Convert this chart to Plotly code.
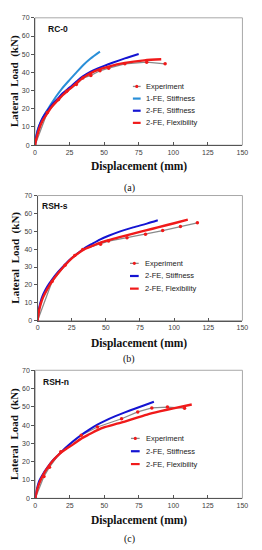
import plotly.graph_objects as go

# ---------------- data ----------------
x_ticks = [0, 25, 50, 75, 100, 125, 150]
y_ticks = [0, 10, 20, 30, 40, 50, 60, 70]
panel_names = ["RC-0", "RSH-s", "RSH-n"]
captions = ["(a)", "(b)", "(c)"]

# Panel (a) RC-0
exp_a_x = [0, 8.9, 17, 22.9, 29.9, 34.6, 40.4, 47, 53.3, 65, 80.8, 94.1]
exp_a_y = [0, 17.9, 25.1, 29.7, 33.3, 36.9, 38.3, 40.9, 42.3, 44.7, 45.6, 44.7]
fe1s_a_x = [0, 1, 2.5, 4.2, 7, 11.2, 15, 19.4, 25.2, 30, 34.6, 40, 47]
fe1s_a_y = [0, 5.5, 9.5, 12.5, 17, 22, 26.5, 31, 36, 40, 43.8, 47.5, 51.4]
fe2s_a_x = [0, 1, 3, 5.5, 8.9, 12, 15.9, 20, 25.2, 30, 34.6, 40, 45, 50, 56, 65, 75]
fe2s_a_y = [0, 5, 10.7, 15, 18.8, 22, 25.1, 28.5, 31.8, 35, 37.8, 40.3, 42.1, 43.6, 45.3, 47.7, 50.1]
fe2f_a_x = [0, 1, 3, 5.5, 8.9, 12, 15.9, 20, 25.2, 30, 34.6, 40, 46, 53.3, 65, 79, 91.3]
fe2f_a_y = [0, 3.5, 8.9, 13.5, 17.5, 21, 24.2, 27.5, 30.9, 34.1, 37.0, 39.5, 41.5, 43.2, 45.2, 46.6, 47.2]

# Panel (b) RSH-s
exp_b_x = [0, 10.6, 20.1, 27.2, 33.1, 46.1, 52, 65.5, 79, 91.6, 104.6, 117]
exp_b_y = [0, 21.9, 31, 36.4, 39.8, 42.8, 44.5, 46.4, 48.3, 50.4, 52.6, 54.7]
fe2s_b_x = [0, 0.7, 2, 4, 7, 10.6, 15, 20.1, 25, 30, 35, 40, 46, 52, 60, 70, 80, 88]
fe2s_b_y = [0, 5, 10, 14.5, 19, 23, 27.2, 31.5, 35, 38, 40.8, 43, 45.5, 47.5, 49.8, 52.2, 54.3, 56.2]
fe2f_b_x = [0, 0.7, 2, 4, 7, 10.6, 15, 20.1, 25, 30, 35, 40, 46, 52, 60, 70, 80, 88, 100, 110]
fe2f_b_y = [0, 4, 8.5, 13, 17.5, 22, 26.5, 31, 34.8, 37.8, 40.2, 41.8, 43.6, 45, 46.7, 48.7, 50.6, 52.2, 54.5, 56.5]

# Panel (c) RSH-n
exp_c_x = [0, 6.3, 10.3, 18.5, 33.3, 45, 62.5, 74.2, 84.4, 95.7, 108.1]
exp_c_y = [0, 12, 17, 25.5, 34.5, 39, 43.5, 47.2, 49.4, 49.9, 49.3]
fe2s_c_x = [0, 1, 2.8, 5.5, 8.7, 13, 18, 22, 27.4, 33, 39.1, 45, 50.8, 58, 64.9, 72, 79, 85.9]
fe2s_c_y = [0, 4.5, 9.4, 13.2, 16.8, 21, 24.6, 27.6, 31.2, 34.5, 37.6, 40.3, 42.5, 44.9, 47.0, 49.0, 50.9, 52.8]
fe2f_c_x = [0, 1, 2.8, 5.5, 8.7, 13, 18, 22, 27.4, 33, 39.1, 45, 50.8, 58, 64.8, 72, 81, 90, 100, 113.3]
fe2f_c_y = [0, 3.5, 8, 12.5, 16.5, 20.8, 24.6, 26.8, 29.5, 32.5, 35.0, 37.3, 39.0, 40.6, 41.9, 43.7, 45.8, 47.5, 49.2, 51.3]

# ---------------- styles ----------------
W, H = 262, 550
GREY = "#8a8a8a"
RED = "#f01a1a"
BLUE = "#1414d2"
LBLUE = "#2a8fd8"

def px(x):
    return x / W

def py(y):
    return 1 - y / H

# plot areas in pixels: (left, right, top, bottom)
areas = [(34, 248, 14, 143), (36.7, 248, 194, 320.7), (34.3, 248, 371, 500.7)]

series = [
    [("Experiment", exp_a_x, exp_a_y, "exp"),
     ("1-FE, Stiffness", fe1s_a_x, fe1s_a_y, LBLUE),
     ("2-FE, Stiffness", fe2s_a_x, fe2s_a_y, BLUE),
     ("2-FE, Flexibility", fe2f_a_x, fe2f_a_y, RED)],
    [("Experiment", exp_b_x, exp_b_y, "exp"),
     ("2-FE, Stiffness", fe2s_b_x, fe2s_b_y, BLUE),
     ("2-FE, Flexibility", fe2f_b_x, fe2f_b_y, RED)],
    [("Experiment", exp_c_x, exp_c_y, "exp"),
     ("2-FE, Stiffness", fe2s_c_x, fe2s_c_y, BLUE),
     ("2-FE, Flexibility", fe2f_c_x, fe2f_c_y, RED)],
]

legend_pos = [(135, 143, 146, 83.5, 12.3), (132, 141, 145, 262.7, 12.8), (133, 142, 146, 440, 13)]
label_pos = [(45, 25), (39, 205), (40, 383)]
xtitle_y = [165, 343.5, 523.5]
caption_y = [186, 360, 541.5]

fig = go.Figure()
shapes = []
annotations = []

for i in range(3):
    sfx = "" if i == 0 else str(i + 1)
    xa, ya = "x" + sfx, "y" + sfx
    l, r, t, b = areas[i]
    order = [s for s in series[i] if s[3] != "exp"]
    exp = [s for s in series[i] if s[3] == "exp"][0]
    fig.add_trace(go.Scatter(x=exp[1], y=exp[2], mode="lines", line=dict(color=GREY, width=1.3),
                             xaxis=xa, yaxis=ya, showlegend=False, hoverinfo="skip"))
    for name, xs, ys, col in order:
        fig.add_trace(go.Scatter(x=xs, y=ys, mode="lines",
                                 line=dict(color=col, width=2.4 if col == RED else 2.0, shape="spline", smoothing=0.8),
                                 xaxis=xa, yaxis=ya, showlegend=False, name=name))
    fig.add_trace(go.Scatter(x=exp[1], y=exp[2], mode="markers", marker=dict(color=RED, size=3.5, symbol="circle"),
                             xaxis=xa, yaxis=ya, showlegend=False, name="Experiment"))

    axcommon = dict(showgrid=False, zeroline=False, showline=True, linecolor="#555555", linewidth=1,
                    tickfont=dict(family="Liberation Sans, Arial", size=7, color="#404040"),
                    tickcolor="#555555", ticklen=3, fixedrange=True)
    fig.update_layout(**{
        "xaxis" + sfx: dict(domain=[px(l), px(r)], range=[0, 150], tickvals=x_ticks, ticks="inside",
                            anchor=ya, **axcommon),
        "yaxis" + sfx: dict(domain=[py(b), py(t)], range=[0, 70], tickvals=y_ticks, ticks="outside",
                            anchor=xa, **axcommon),
    })
    shapes.append(dict(type="rect", xref="paper", yref="paper", x0=px(l), x1=px(r), y0=py(b), y1=py(t),
                       line=dict(color="#a8a8a8", width=1), layer="below"))
    annotations.append(dict(x=px(label_pos[i][0]), y=py(label_pos[i][1]), xref="paper", yref="paper",
                            text="<b>" + panel_names[i] + "</b>", showarrow=False, xanchor="left", yanchor="middle",
                            font=dict(family="Liberation Sans, Arial", size=8.5, color="#111111")))
    annotations.append(dict(x=px(141), y=py(xtitle_y[i]), xref="paper", yref="paper",
                            text="<b>Displacement (mm)</b>", showarrow=False, xanchor="center", yanchor="middle",
                            font=dict(family="Liberation Serif, Times New Roman", size=11.5, color="#111111")))
    annotations.append(dict(x=px(13), y=py((t + b) / 2), xref="paper", yref="paper",
                            text="<b>Lateral  Load  (kN)</b>", showarrow=False, textangle=-90,
                            xanchor="center", yanchor="middle",
                            font=dict(family="Liberation Serif, Times New Roman", size=11, color="#111111")))
    annotations.append(dict(x=px(131), y=py(caption_y[i]), xref="paper", yref="paper",
                            text=captions[i], showarrow=False, xanchor="center", yanchor="middle",
                            font=dict(family="Liberation Serif, Times New Roman", size=10, color="#111111")))
    lx0, lx1, tx, ly, step = legend_pos[i]
    for k, (name, xs, ys, col) in enumerate(series[i]):
        yy = ly + k * step
        c = GREY if col == "exp" else col
        shapes.append(dict(type="line", xref="paper", yref="paper", x0=px(lx0), x1=px(lx1), y0=py(yy), y1=py(yy),
                           line=dict(color=c, width=1.3 if col == "exp" else 2.2)))
        if col == "exp":
            cx = (lx0 + lx1) / 2
            shapes.append(dict(type="circle", xref="paper", yref="paper", x0=px(cx - 1.6), x1=px(cx + 1.6),
                               y0=py(yy + 1.6), y1=py(yy - 1.6), fillcolor=RED, line=dict(color=RED, width=0)))
        annotations.append(dict(x=px(tx), y=py(yy), xref="paper", yref="paper", text=name, showarrow=False,
                                xanchor="left", yanchor="middle",
                                font=dict(family="Liberation Sans, Arial", size=7.5, color="#222222")))

fig.update_layout(width=W, height=H, margin=dict(l=0, r=0, t=0, b=0), paper_bgcolor="white",
                  plot_bgcolor="white", shapes=shapes, annotations=annotations, showlegend=False)

fig.write_html("out.html", config={"displayModeBar": False},
               post_script="document.body.style.margin='0px';document.body.style.overflow='hidden';")
